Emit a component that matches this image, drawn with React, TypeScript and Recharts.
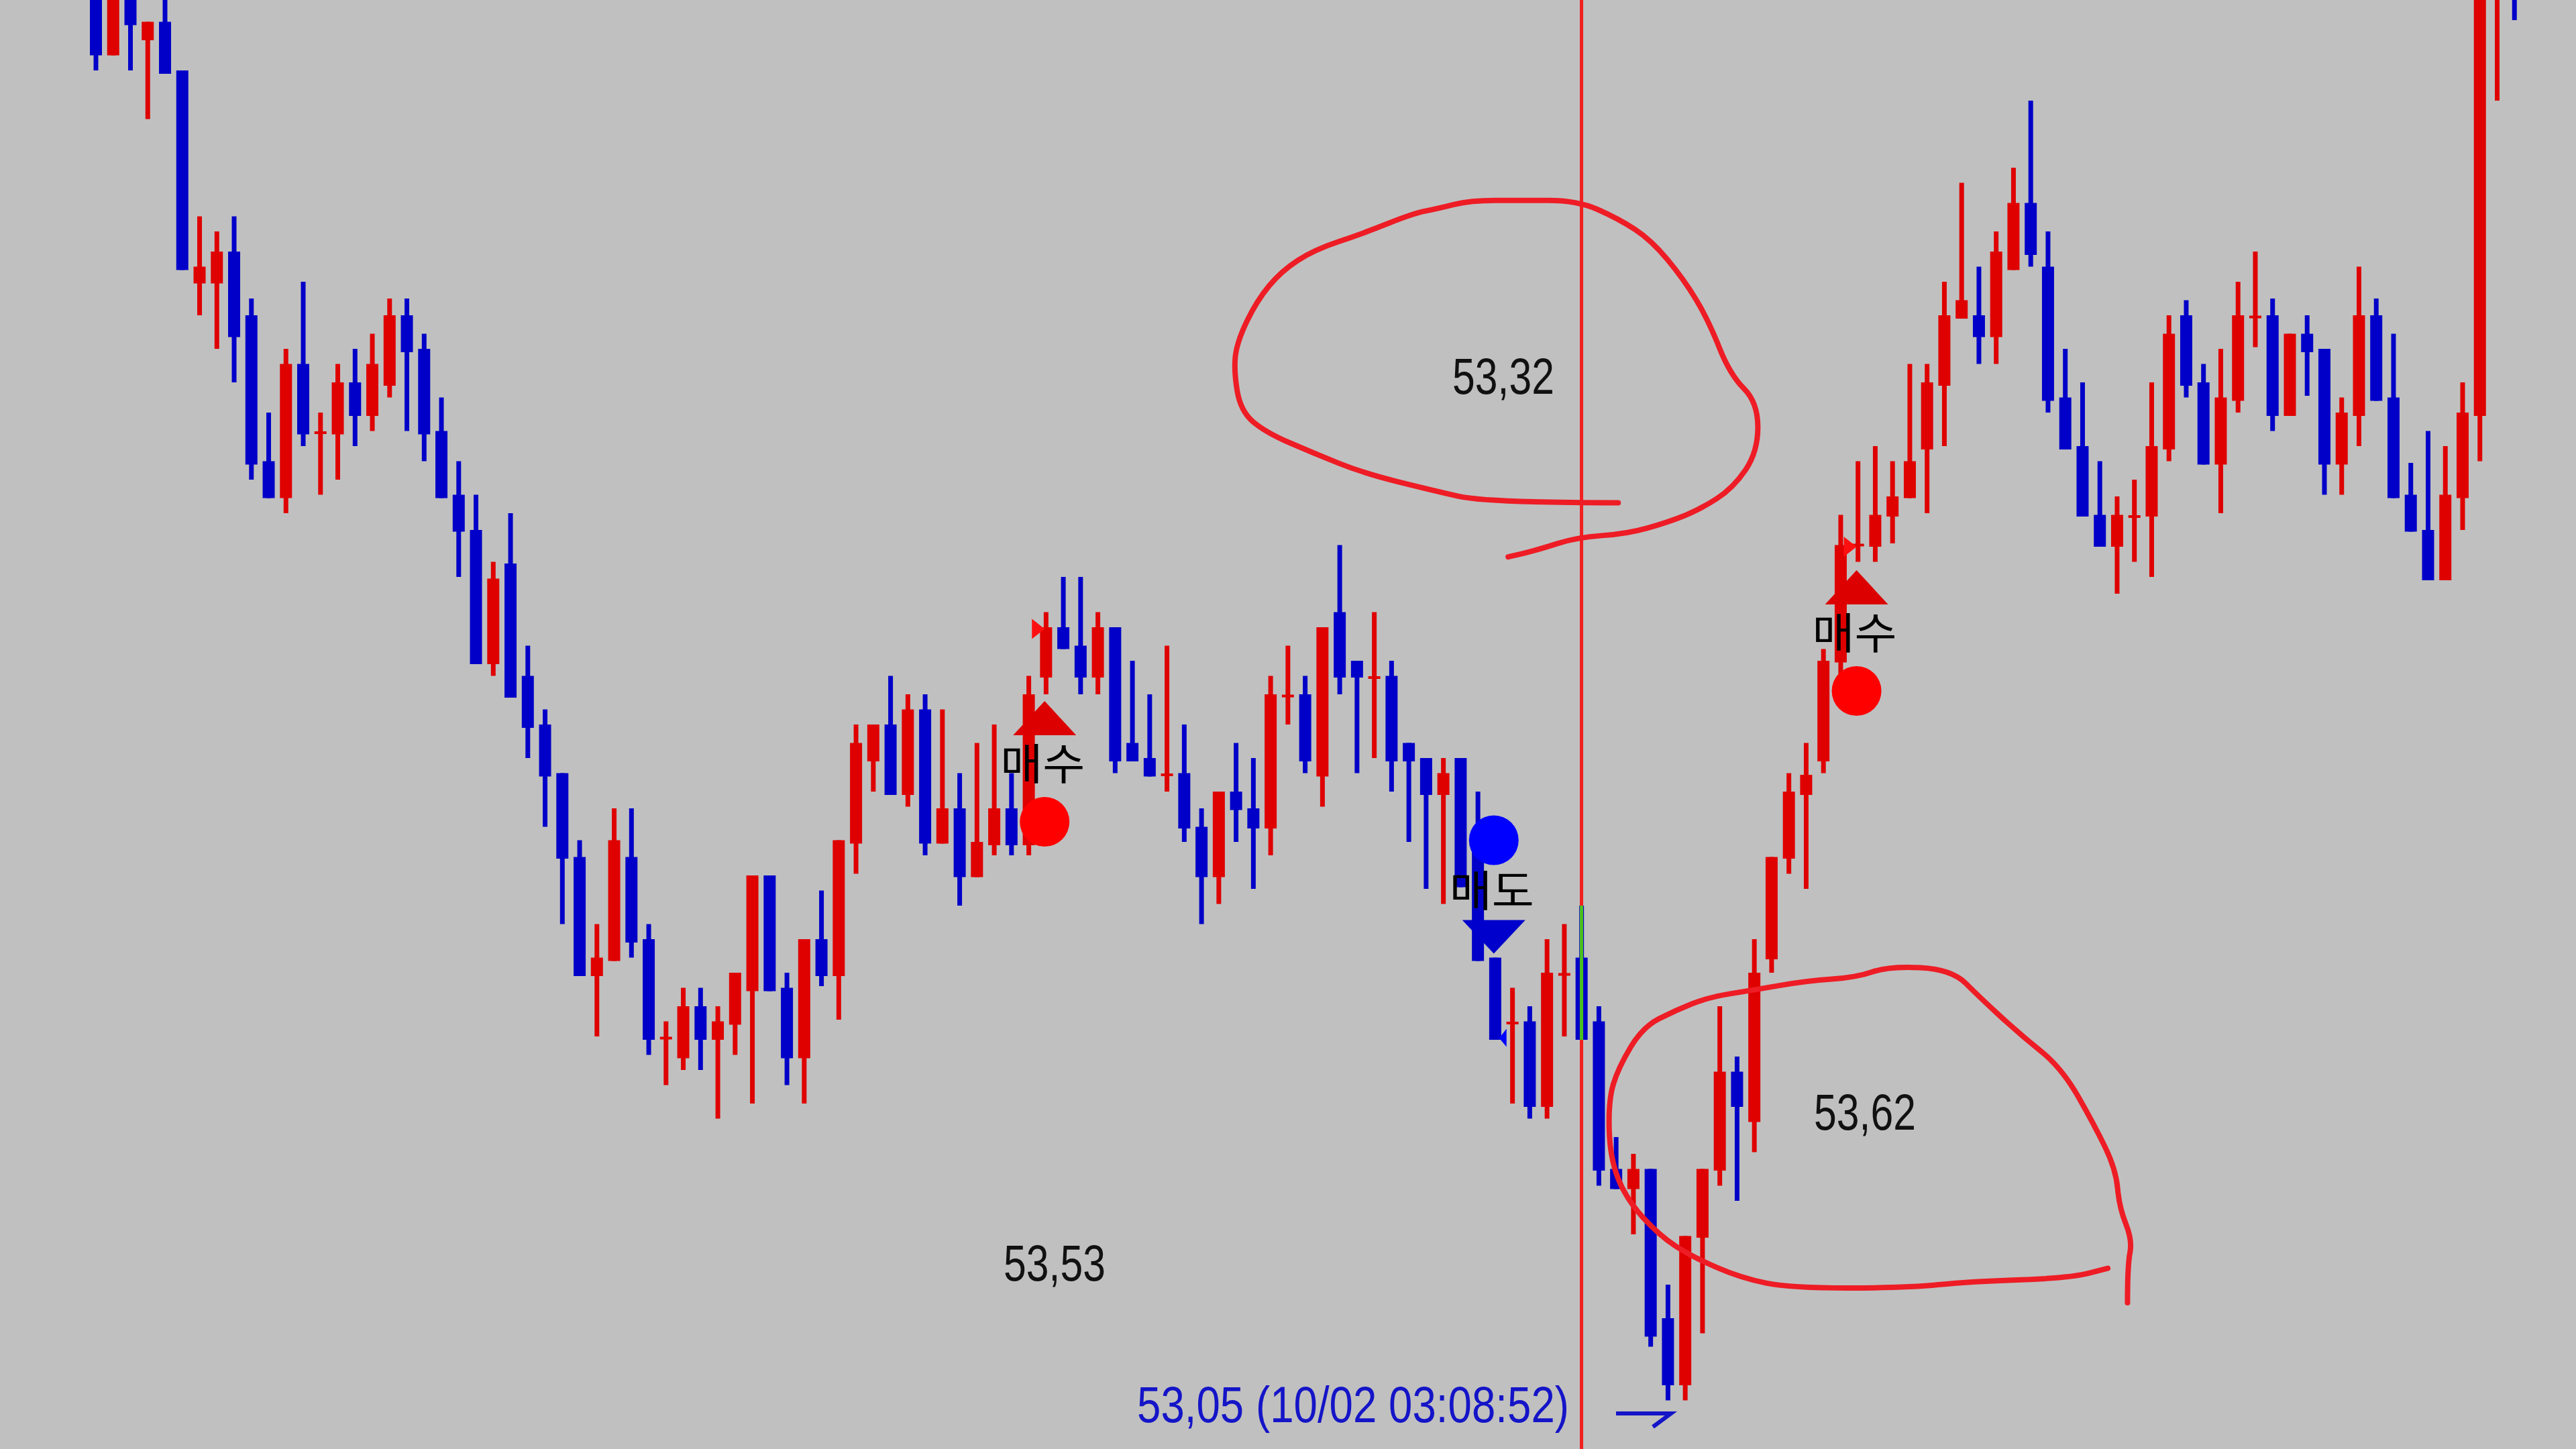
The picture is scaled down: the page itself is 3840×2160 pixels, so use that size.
import React from "react";
import { ComposedChart, Bar, XAxis, YAxis, ReferenceLine, ReferenceDot } from "recharts";

const W = 3840;
const H = 2160;

const RED = "#df0000";
const BLUE = "#0000c8";

// OHLC, one entry per candle, left to right
const opens = [
  53.897, 53.852, 53.889, 53.861, 53.872, 53.843, 53.716, 53.716, 53.735, 53.697,
  53.61, 53.588, 53.668, 53.627, 53.626, 53.657, 53.637, 53.655, 53.697, 53.677,
  53.628, 53.59, 53.569, 53.489, 53.549, 53.482, 53.453, 53.424, 53.374, 53.303,
  53.312, 53.374, 53.325, 53.266, 53.254, 53.285, 53.265, 53.274, 53.294, 53.363,
  53.296, 53.254, 53.325, 53.303, 53.382, 53.431, 53.453, 53.411, 53.462, 53.382,
  53.403, 53.362, 53.381, 53.403, 53.381, 53.481, 53.511, 53.5, 53.481, 53.511,
  53.442, 53.433, 53.423, 53.424, 53.392, 53.362, 53.413, 53.403, 53.391, 53.47,
  53.471, 53.422, 53.52, 53.491, 53.481, 53.482, 53.442, 53.433, 53.411, 53.433,
  53.377, 53.314, 53.275, 53.276, 53.225, 53.304, 53.314, 53.276, 53.188, 53.176,
  53.188, 53.099, 53.059, 53.147, 53.187, 53.246, 53.216, 53.313, 53.373, 53.411,
  53.431, 53.49, 53.56, 53.559, 53.577, 53.588, 53.617, 53.655, 53.695, 53.697,
  53.684, 53.724, 53.764, 53.726, 53.648, 53.619, 53.578, 53.559, 53.577, 53.577,
  53.617, 53.697, 53.657, 53.608, 53.646, 53.696, 53.697, 53.637, 53.686, 53.677,
  53.608, 53.637, 53.697, 53.648, 53.59, 53.569, 53.539, 53.588, 53.637, 53.895, 53.905,
];
const highs = [
  53.909, 53.909, 53.901, 53.872, 53.897, 53.843, 53.756, 53.747, 53.756, 53.707,
  53.639, 53.677, 53.717, 53.639, 53.668, 53.677, 53.686, 53.707, 53.707, 53.686,
  53.648, 53.61, 53.59, 53.55, 53.579, 53.5, 53.462, 53.424, 53.384, 53.334,
  53.403, 53.403, 53.334, 53.276, 53.296, 53.296, 53.285, 53.305, 53.363, 53.363,
  53.305, 53.325, 53.354, 53.384, 53.453, 53.453, 53.482, 53.471, 53.471, 53.462,
  53.424, 53.442, 53.453, 53.424, 53.482, 53.52, 53.541, 53.541, 53.52, 53.511,
  53.491, 53.471, 53.5, 53.453, 53.403, 53.413, 53.442, 53.433, 53.482, 53.5,
  53.482, 53.511, 53.56, 53.491, 53.52, 53.491, 53.442, 53.433, 53.433, 53.433,
  53.413, 53.314, 53.296, 53.285, 53.325, 53.334, 53.345, 53.285, 53.207, 53.197,
  53.188, 53.119, 53.148, 53.188, 53.285, 53.255, 53.325, 53.374, 53.424, 53.442,
  53.498, 53.578, 53.61, 53.619, 53.61, 53.668, 53.668, 53.717, 53.776, 53.726,
  53.747, 53.785, 53.825, 53.747, 53.677, 53.657, 53.61, 53.589, 53.599, 53.657,
  53.697, 53.706, 53.668, 53.677, 53.717, 53.735, 53.707, 53.686, 53.697, 53.677,
  53.648, 53.726, 53.707, 53.686, 53.609, 53.628, 53.619, 53.657, 53.909, 53.915, 53.915,
];
const lows = [
  53.843, 53.852, 53.843, 53.814, 53.841, 53.724, 53.697, 53.677, 53.657, 53.599,
  53.588, 53.579, 53.619, 53.59, 53.599, 53.619, 53.628, 53.648, 53.628, 53.61,
  53.588, 53.541, 53.489, 53.482, 53.469, 53.433, 53.392, 53.334, 53.303, 53.267,
  53.312, 53.314, 53.256, 53.238, 53.247, 53.247, 53.218, 53.256, 53.227, 53.294,
  53.238, 53.227, 53.297, 53.277, 53.364, 53.413, 53.411, 53.404, 53.375, 53.382,
  53.345, 53.362, 53.375, 53.375, 53.375, 53.471, 53.498, 53.471, 53.471, 53.424,
  53.431, 53.422, 53.413, 53.383, 53.334, 53.346, 53.383, 53.355, 53.375, 53.453,
  53.424, 53.404, 53.471, 53.424, 53.433, 53.413, 53.383, 53.355, 53.346, 53.356,
  53.312, 53.265, 53.227, 53.218, 53.218, 53.267, 53.265, 53.178, 53.176, 53.149,
  53.082, 53.05, 53.05, 53.09, 53.178, 53.169, 53.198, 53.305, 53.364, 53.355,
  53.424, 53.483, 53.55, 53.55, 53.561, 53.588, 53.579, 53.619, 53.695, 53.668,
  53.668, 53.724, 53.726, 53.639, 53.617, 53.577, 53.559, 53.531, 53.55, 53.541,
  53.61, 53.648, 53.608, 53.579, 53.639, 53.678, 53.628, 53.637, 53.649, 53.59,
  53.59, 53.619, 53.646, 53.588, 53.568, 53.539, 53.539, 53.569, 53.61, 53.825, 53.873,
];
const closes = [
  53.852, 53.897, 53.87, 53.872, 53.841, 53.724, 53.726, 53.735, 53.684, 53.608,
  53.588, 53.668, 53.626, 53.627, 53.657, 53.637, 53.668, 53.697, 53.675, 53.626,
  53.588, 53.568, 53.489, 53.54, 53.469, 53.451, 53.422, 53.373, 53.303, 53.314,
  53.384, 53.323, 53.265, 53.266, 53.285, 53.265, 53.276, 53.305, 53.363, 53.294,
  53.254, 53.325, 53.303, 53.384, 53.442, 53.453, 53.411, 53.462, 53.382, 53.403,
  53.362, 53.383, 53.403, 53.381, 53.471, 53.511, 53.498, 53.481, 53.511, 53.431,
  53.431, 53.422, 53.423, 53.391, 53.362, 53.413, 53.402, 53.391, 53.471, 53.47,
  53.431, 53.511, 53.481, 53.481, 53.481, 53.431, 53.431, 53.411, 53.424, 53.356,
  53.312, 53.265, 53.275, 53.225, 53.305, 53.304, 53.265, 53.187, 53.176, 53.188,
  53.088, 53.059, 53.148, 53.188, 53.246, 53.225, 53.305, 53.374, 53.413, 53.423,
  53.491, 53.56, 53.56, 53.578, 53.589, 53.61, 53.657, 53.697, 53.706, 53.684,
  53.735, 53.764, 53.733, 53.646, 53.617, 53.577, 53.559, 53.578, 53.577, 53.619,
  53.686, 53.655, 53.608, 53.648, 53.697, 53.696, 53.637, 53.686, 53.675, 53.608,
  53.639, 53.697, 53.646, 53.588, 53.568, 53.539, 53.59, 53.639, 53.897, 53.905, 53.895,
];

// signals: candle number + price of the round marker
const buySignals = [
  { idx: 56, price: 53.395 },
  { idx: 103, price: 53.473 },
];
const sellSignals = [{ idx: 82, price: 53.384 }];

// little entry flags next to the signal candles
const buyFlags = [
  { idx: 56, price: 53.51 },
  { idx: 103, price: 53.559 },
];
const sellFlags = [{ idx: 82, price: 53.266 }];

const cursorIdx = 87;
const cursorHigh = 53.345;
const cursorLow = 53.265;

const priceLabels = [
  { text: "53,32", x: 2165, y: 587, w: 152 },
  { text: "53,62", x: 2704, y: 1684, w: 152 },
  { text: "53,53", x: 1496, y: 1909, w: 152 },
];

// hand-drawn circles, traced on the reduced 1568 wide picture
const inkScale = W / 1568;
const inkUpper = [
  [985, 306], [905, 306], [870, 298], [830, 288], [800, 276], [770, 263], [755, 250], [751, 225],
  [753, 208], [765, 183], [780, 165], [800, 152], [830, 142], [860, 130], [875, 127], [895, 122],
  [925, 122], [960, 122], [985, 133], [1005, 146], [1025, 170], [1040, 195], [1053, 228], [1070, 245],
  [1070, 275], [1055, 297], [1035, 310], [1015, 318], [990, 325], [960, 327], [935, 335], [918, 339],
];
const inkLower = [
  [1295, 793], [1295, 770], [1298, 755], [1290, 735], [1288, 712], [1275, 685], [1255, 650], [1230, 630],
  [1205, 607], [1188, 590], [1150, 588], [1130, 595], [1100, 597], [1065, 603], [1040, 607], [1020, 615],
  [1000, 625], [985, 650], [979, 670], [980, 705], [990, 730], [1010, 752], [1030, 765], [1060, 778],
  [1090, 784], [1160, 784], [1200, 780], [1260, 778], [1283, 772],
];

const data = opens.map((open, i) => ({
  idx: i + 1,
  open,
  close: closes[i],
  high: highs[i],
  low: lows[i],
  range: [lows[i], highs[i]],
}));

function doji(open: number, close: number) {
  return Math.abs(open - close) < 0.001;
}

function Candle(props: any) {
  const { x, y, width, height, payload } = props;
  const { open, close, high, low } = payload;
  const color = close >= open ? RED : BLUE;
  const k = height / (high - low);
  const top = y + (high - Math.max(open, close)) * k;
  const bodyH = Math.max(Math.abs(open - close) * k, 4);
  const cx = x + width / 2;
  return (
    <g>
      <rect x={cx - 3.5} y={y} width={7} height={height} fill={color} />
      <rect x={x} y={doji(open, close) ? top - 2 : top} width={width} height={bodyH} fill={color} />
    </g>
  );
}

const koreanFont = "'Noto Sans CJK KR', sans-serif";

// the signal glyphs sit a touch left of the band centre in the source
const markerShift = -2;

function BuyMarker({ cx: bandX, cy }: any) {
  const cx = bandX + markerShift;
  return (
    <g>
      <polygon points={`${cx},${cy - 180} ${cx + 47},${cy - 129} ${cx - 47},${cy - 129}`} fill="#dc0000" />
      <text x={cx - 66} y={cy - 63} fontSize={64} fontFamily={koreanFont} fill="#000" textLength={126} lengthAdjust="spacingAndGlyphs">
        매수
      </text>
      <circle cx={cx} cy={cy} r={37} fill="#ff0000" />
    </g>
  );
}

function SellMarker({ cx: bandX, cy }: any) {
  const cx = bandX + markerShift;
  return (
    <g>
      <polygon points={`${cx - 47},${cy + 119} ${cx + 47},${cy + 119} ${cx},${cy + 169}`} fill="#0000cc" />
      <text x={cx - 66} y={cy + 98} fontSize={64} fontFamily={koreanFont} fill="#000" textLength={126} lengthAdjust="spacingAndGlyphs">
        매도
      </text>
      <circle cx={cx} cy={cy} r={37} fill="#0000ff" />
    </g>
  );
}

function BuyFlag({ cx, cy }: any) {
  return <polygon points={`${cx - 21},${cy - 15} ${cx - 21},${cy + 15} ${cx - 2},${cy}`} fill="#ff1010" />;
}

function SellFlag({ cx, cy }: any) {
  return <polygon points={`${cx + 6},${cy} ${cx + 17},${cy - 14} ${cx + 17},${cy + 13}`} fill="#0000ff" />;
}

// rounds the traced corners by running through the segment midpoints
function inkPath(points: number[][]) {
  const p = points.map(([px, py]) => [px * inkScale, py * inkScale]);
  let d = `M${p[0][0]},${p[0][1]}`;
  for (let i = 1; i < p.length - 1; i++) {
    const mx = (p[i][0] + p[i + 1][0]) / 2;
    const my = (p[i][1] + p[i + 1][1]) / 2;
    d += ` Q${p[i][0]},${p[i][1]} ${mx},${my}`;
  }
  const last = p[p.length - 1];
  return `${d} L${last[0]},${last[1]}`;
}

function Ink({ points }: { points: number[][] }) {
  return <path d={inkPath(points)} fill="none" stroke="#ee1c25" strokeWidth={8} strokeLinejoin="round" strokeLinecap="round" />;
}

export default function App() {
  return (
    <div style={{ position: "absolute", left: 0, top: 0, width: W, height: H, background: "#c0c0c0", overflow: "hidden" }}>
      <ComposedChart width={W} height={H} data={data} margin={{ top: 0, right: 0, bottom: 0, left: 0 }}>
        <XAxis dataKey="idx" hide padding={{ left: 130, right: 79 }} />
        <YAxis hide domain={[53.021, 53.885]} allowDataOverflow />
        <ReferenceLine x={cursorIdx} stroke="#f02020" strokeWidth={5} />
        <Bar dataKey="range" barSize={18} shape={Candle} isAnimationActive={false} />
        <ReferenceLine
          segment={[
            { x: cursorIdx, y: cursorHigh },
            { x: cursorIdx, y: cursorLow },
          ]}
          stroke="#48c020"
          strokeWidth={5}
        />
        {buyFlags.map((f) => (
          <ReferenceDot key={`bf${f.idx}`} x={f.idx} y={f.price} shape={BuyFlag} />
        ))}
        {sellFlags.map((f) => (
          <ReferenceDot key={`sf${f.idx}`} x={f.idx} y={f.price} shape={SellFlag} />
        ))}
        {buySignals.map((s) => (
          <ReferenceDot key={`b${s.idx}`} x={s.idx} y={s.price} shape={BuyMarker} />
        ))}
        {sellSignals.map((s) => (
          <ReferenceDot key={`s${s.idx}`} x={s.idx} y={s.price} shape={SellMarker} />
        ))}
      </ComposedChart>
      <svg width={W} height={H} style={{ position: "absolute", left: 0, top: 0 }}>
        <Ink points={inkUpper} />
        <Ink points={inkLower} />
        {priceLabels.map((l) => (
          <text
            key={l.text}
            x={l.x}
            y={l.y}
            fontSize={76}
            fontFamily="'Liberation Sans', sans-serif"
            fill="#111"
            textLength={l.w}
            lengthAdjust="spacingAndGlyphs"
          >
            {l.text}
          </text>
        ))}
        <text
          x={1695}
          y={2120}
          fontSize={76}
          fontFamily="'Liberation Sans', sans-serif"
          fill="#1414c8"
          textLength={644}
          lengthAdjust="spacingAndGlyphs"
        >
          53,05 (10/02 03:08:52)
        </text>
        <polyline points="2409,2107 2491,2107 2464,2127" fill="none" stroke="#1414c8" strokeWidth={6} />
      </svg>
    </div>
  );
}
